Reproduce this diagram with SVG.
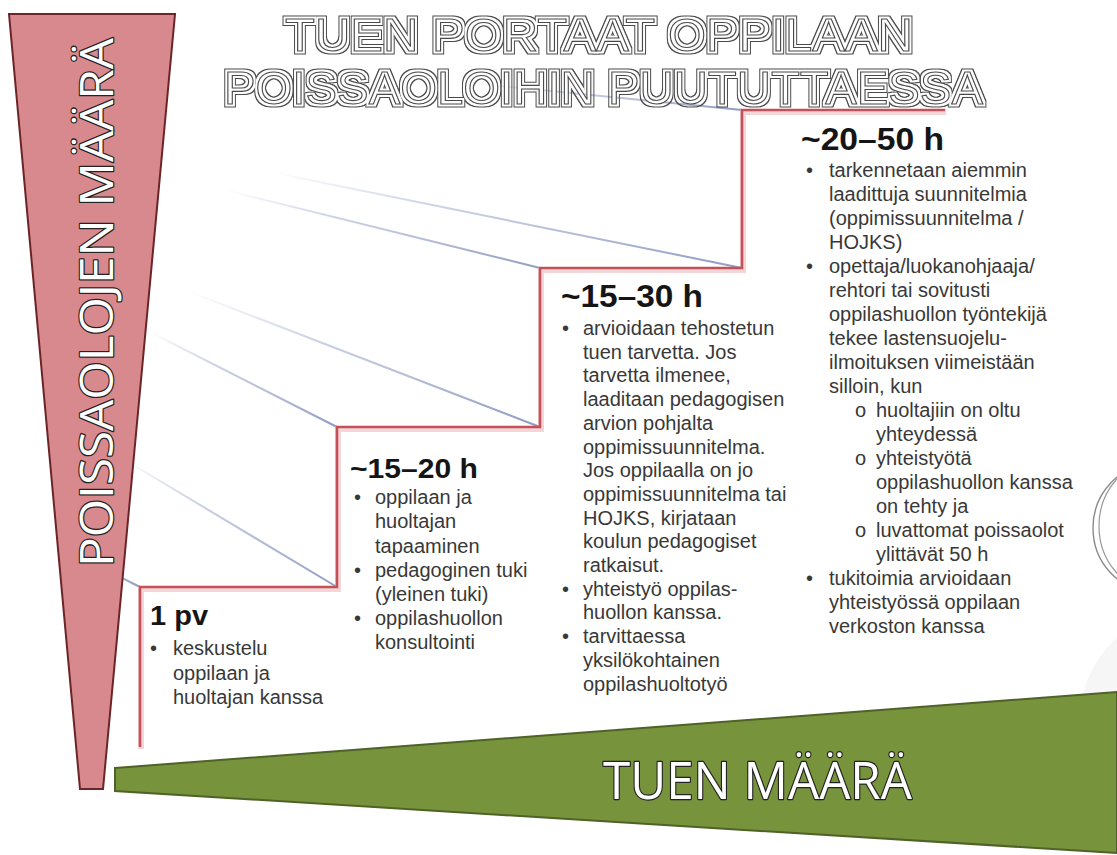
<svg xmlns="http://www.w3.org/2000/svg" width="1117" height="855" viewBox="0 0 1117 855">
<defs>
<style>
.title{font-family:"Liberation Sans",Arial,sans-serif;font-size:47px;fill:#fff;stroke:#4a4a4a;stroke-width:1.1px;filter:url(#dbl)}
.axis{font-family:"Open Sans","Liberation Sans",sans-serif;fill:#fff;stroke:#222;stroke-width:2.4px;paint-order:stroke;stroke-linejoin:round}
.head{font-family:"Liberation Sans",Arial,sans-serif;font-weight:bold;fill:#151515}
.body{font-family:"Liberation Sans",Arial,sans-serif;font-size:20px;fill:#383838}
.persp{fill:none;stroke:url(#fade);stroke-width:2}
</style>
<filter id="dbl" x="-5%" y="-20%" width="110%" height="140%">
<feMorphology in="SourceAlpha" operator="dilate" radius="2.9" result="d1"/>
<feMorphology in="SourceAlpha" operator="dilate" radius="1.9" result="d2"/>
<feComposite in="d1" in2="d2" operator="out" result="ring"/>
<feFlood flood-color="#4a4a4a"/>
<feComposite in2="ring" operator="in" result="ringc"/>
<feMerge><feMergeNode in="ringc"/><feMergeNode in="SourceGraphic"/></feMerge>
</filter>
<linearGradient id="fade" x1="0" y1="0" x2="1" y2="0">
<stop offset="0" stop-color="#9aa6cc" stop-opacity="0"/>
<stop offset="0.35" stop-color="#9aa6cc" stop-opacity="0.5"/>
<stop offset="1" stop-color="#8a96bf" stop-opacity="0.95"/>
</linearGradient>
</defs>
<rect width="1117" height="855" fill="#fff"/>

<g id="decor">
<circle cx="1190" cy="720" r="110" fill="#f6f6f6"/>
<ellipse cx="1152" cy="528" rx="59" ry="63" fill="none" stroke="#8a8a8a" stroke-width="1.4"/>
<ellipse cx="1155" cy="526" rx="56" ry="64" fill="none" stroke="#9a9a9a" stroke-width="1.2"/>
</g>

<g id="connectors">
<line class="persp" x1="120" y1="457" x2="337" y2="587"/>
<line class="persp" x1="60" y1="547" x2="140" y2="587"/>
<line class="persp" x1="150" y1="332" x2="337" y2="427"/>
<line class="persp" x1="190" y1="292" x2="540" y2="427"/>
<line class="persp" x1="225" y1="190" x2="540" y2="268"/>
<line class="persp" x1="270" y1="172" x2="742" y2="268"/>
<line class="persp" x1="470" y1="83" x2="742" y2="110"/>
<path d="M141,749 V589 H338 V429 H541 V270 H743 V112 H946" fill="none" stroke="#efc4c7" stroke-width="6" opacity="0.7"/>
<path d="M140,747 V587 H337 V427 H540 V268 H742 V110 H945" fill="none" stroke="#c4505a" stroke-width="2.6"/>
</g>

<g id="absence-axis">
<polygon points="9,14 175,14 103,789 80,789" fill="#d8898d" stroke="#6b2428" stroke-width="2"/>
<text class="axis" transform="translate(113,567) rotate(-90)" font-size="46" textLength="529" lengthAdjust="spacingAndGlyphs">POISSAOLOJEN MÄÄRÄ</text>
</g>

<g id="support-axis">
<polygon points="115,768 1117,692 1117,853 115,791" fill="#77933c" stroke="#4f6228" stroke-width="2"/>
<text class="axis" x="603" y="799" font-size="52" textLength="309" lengthAdjust="spacingAndGlyphs">TUEN MÄÄRÄ</text>
</g>

<g id="title">
<text class="title" x="285" y="51" textLength="628" lengthAdjust="spacingAndGlyphs">TUEN PORTAAT OPPILAAN</text>
<text class="title" x="224" y="104" textLength="759" lengthAdjust="spacingAndGlyphs">POISSAOLOIHIN PUUTUTTAESSA</text>
</g>

<g id="step-1pv">
<text class="head" x="150" y="625" font-size="28" textLength="58" lengthAdjust="spacingAndGlyphs">1 pv</text>
<text class="body">
<tspan x="150" y="655">•</tspan>
<tspan x="173" y="655">keskustelu</tspan>
<tspan x="173" y="680">oppilaan ja</tspan>
<tspan x="173" y="704">huoltajan kanssa</tspan>
</text>
</g>

<g id="step-15-20h">
<text class="head" x="350" y="478" font-size="28" textLength="128" lengthAdjust="spacingAndGlyphs">~15–20 h</text>
<text class="body">
<tspan x="354" y="504">•</tspan>
<tspan x="375" y="504">oppilaan ja</tspan>
<tspan x="375" y="528">huoltajan</tspan>
<tspan x="375" y="553">tapaaminen</tspan>
<tspan x="354" y="577">•</tspan>
<tspan x="375" y="577">pedagoginen tuki</tspan>
<tspan x="375" y="601">(yleinen tuki)</tspan>
<tspan x="354" y="625">•</tspan>
<tspan x="375" y="625">oppilashuollon</tspan>
<tspan x="375" y="649">konsultointi</tspan>
</text>
</g>

<g id="step-15-30h">
<text class="head" x="561" y="307" font-size="31" textLength="142" lengthAdjust="spacingAndGlyphs">~15–30 h</text>
<text class="body">
<tspan x="562" y="335">•</tspan>
<tspan x="583" y="335">arvioidaan tehostetun</tspan>
<tspan x="583" y="358.7">tuen tarvetta. Jos</tspan>
<tspan x="583" y="382.4">tarvetta ilmenee,</tspan>
<tspan x="583" y="406.1">laaditaan pedagogisen</tspan>
<tspan x="583" y="429.8">arvion pohjalta</tspan>
<tspan x="583" y="453.5">oppimissuunnitelma.</tspan>
<tspan x="583" y="477.2">Jos oppilaalla on jo</tspan>
<tspan x="583" y="500.9">oppimissuunnitelma tai</tspan>
<tspan x="583" y="524.6">HOJKS, kirjataan</tspan>
<tspan x="583" y="548.3">koulun pedagogiset</tspan>
<tspan x="583" y="572">ratkaisut.</tspan>
<tspan x="562" y="595.7">•</tspan>
<tspan x="583" y="595.7">yhteistyö oppilas-</tspan>
<tspan x="583" y="619.4">huollon kanssa.</tspan>
<tspan x="562" y="643.1">•</tspan>
<tspan x="583" y="643.1">tarvittaessa</tspan>
<tspan x="583" y="666.8">yksilökohtainen</tspan>
<tspan x="583" y="690.5">oppilashuoltotyö</tspan>
</text>
</g>

<g id="step-20-50h">
<text class="head" x="801" y="150" font-size="31" textLength="143" lengthAdjust="spacingAndGlyphs">~20–50 h</text>
<text class="body">
<tspan x="806" y="177">•</tspan>
<tspan x="829" y="177">tarkennetaan aiemmin</tspan>
<tspan x="829" y="201">laadittuja suunnitelmia</tspan>
<tspan x="829" y="225">(oppimissuunnitelma /</tspan>
<tspan x="829" y="249">HOJKS)</tspan>
<tspan x="806" y="273">•</tspan>
<tspan x="829" y="273">opettaja/luokanohjaaja/</tspan>
<tspan x="829" y="297">rehtori tai sovitusti</tspan>
<tspan x="829" y="321">oppilashuollon työntekijä</tspan>
<tspan x="829" y="345">tekee lastensuojelu-</tspan>
<tspan x="829" y="369">ilmoituksen viimeistään</tspan>
<tspan x="829" y="393">silloin, kun</tspan>
<tspan x="855" y="417">o</tspan>
<tspan x="876" y="417">huoltajiin on oltu</tspan>
<tspan x="876" y="441">yhteydessä</tspan>
<tspan x="855" y="465">o</tspan>
<tspan x="876" y="465">yhteistyötä</tspan>
<tspan x="876" y="489">oppilashuollon kanssa</tspan>
<tspan x="876" y="513">on tehty ja</tspan>
<tspan x="855" y="537">o</tspan>
<tspan x="876" y="537">luvattomat poissaolot</tspan>
<tspan x="876" y="561">ylittävät 50 h</tspan>
<tspan x="806" y="585">•</tspan>
<tspan x="829" y="585">tukitoimia arvioidaan</tspan>
<tspan x="829" y="609">yhteistyössä oppilaan</tspan>
<tspan x="829" y="633">verkoston kanssa</tspan>
</text>
</g>
</svg>
